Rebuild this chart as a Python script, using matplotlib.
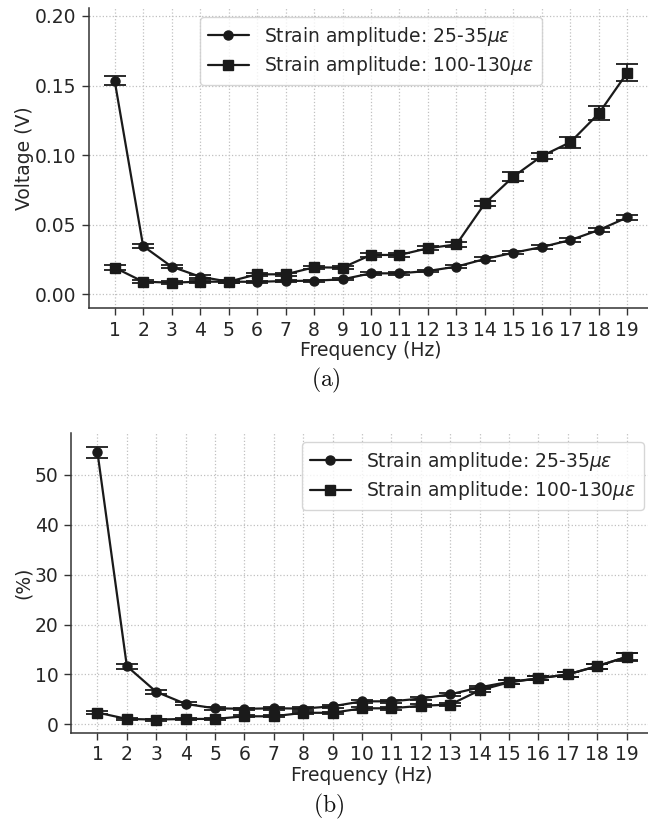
import matplotlib
matplotlib.use("Agg")
import matplotlib.pyplot as plt
from matplotlib.lines import Line2D
import seaborn as sns

sns.set_style("ticks")
plt.rcParams['font.family'] = ['DejaVu Sans']
plt.rcParams['mathtext.fontset'] = 'dejavusans'

freq = list(range(1, 20))
freq_ticks = [str(f) for f in freq]

# Panel (a): Voltage (V)
volt_low = [0.1536, 0.0347, 0.0199, 0.0127, 0.0091, 0.0090, 0.0096, 0.0098, 0.0108, 0.0151,
            0.0151, 0.0168, 0.0199, 0.0254, 0.0299, 0.0340, 0.0390, 0.0462, 0.0553]
volt_low_err = [0.003, 0.0015, 0.0012, 0.0010, 0.0008, 0.0008, 0.0008, 0.0008, 0.0008, 0.0010,
                0.0010, 0.0010, 0.0010, 0.0012, 0.0012, 0.0012, 0.0015, 0.0015, 0.002]
volt_high = [0.0192, 0.0091, 0.0084, 0.0091, 0.0091, 0.0144, 0.0144, 0.0194, 0.0192, 0.0283,
             0.0283, 0.0331, 0.0359, 0.0654, 0.0846, 0.0994, 0.1093, 0.1300, 0.1593]
volt_high_err = [0.002, 0.001, 0.001, 0.001, 0.001, 0.0012, 0.0012, 0.0012, 0.0012, 0.0015,
                 0.0015, 0.0015, 0.002, 0.002, 0.003, 0.0025, 0.004, 0.005, 0.006]

# Panel (b): percentage
pct_low = [54.55, 11.65, 6.5, 4.08, 3.2, 3.1, 3.2, 3.15, 3.6, 4.6,
           4.6, 5.15, 6.0, 7.4, 8.5, 9.2, 10.0, 11.65, 13.5]
pct_low_err = [1.1, 0.5, 0.35, 0.3, 0.25, 0.25, 0.25, 0.25, 0.25, 0.3,
               0.3, 0.3, 0.3, 0.35, 0.4, 0.4, 0.45, 0.5, 0.8]
pct_high = [2.35, 1.07, 0.94, 1.07, 1.07, 1.6, 1.6, 2.3, 2.3, 3.2,
            3.2, 3.7, 3.95, 6.8, 8.4, 9.2, 10.0, 11.65, 13.5]
pct_high_err = [0.3, 0.2, 0.2, 0.2, 0.2, 0.2, 0.2, 0.25, 0.25, 0.3,
                0.3, 0.3, 0.3, 0.4, 0.4, 0.4, 0.45, 0.5, 0.7]

labels = [r'Strain amplitude: 25-35$\mu\varepsilon$', r'Strain amplitude: 100-130$\mu\varepsilon$']

W, H = 648, 823
fig = plt.figure(figsize=(W / 100, H / 100), dpi=100)

def px_axes(left, right, top, bottom):
    return fig.add_axes([left / W, 1 - bottom / H, (right - left) / W, (bottom - top) / H])

ax1 = px_axes(89, 653, 8, 308)
ax2 = px_axes(71, 653, 433, 733)

color = '#1a1a1a'
textc = '#262626'
kw = dict(color=color, lw=1.6, capsize=8, elinewidth=1.3, capthick=1.3, markersize=6.5)
FS = 13.5

def draw(ax, low, low_err, high, high_err, ylabel, legend_loc):
    ax.errorbar(freq, low, yerr=low_err, marker='o', **kw)
    ax.errorbar(freq, high, yerr=high_err, marker='s', **kw)
    ax.set_xticks(freq)
    ax.set_xticklabels(freq_ticks)
    ax.set_xlim(0.1, 19.9)
    ax.grid(True, linestyle=':', color='#c0c0c0', lw=0.9)
    ax.set_axisbelow(True)
    ax.tick_params(labelsize=FS, length=5, width=1, color='#333333', labelcolor=textc, pad=4)
    ax.set_xlabel('Frequency (Hz)', fontsize=FS, labelpad=1, color=textc)
    ax.set_ylabel(ylabel, fontsize=FS, color=textc, labelpad=1)
    for s in ['top', 'right']:
        ax.spines[s].set_visible(False)
    for s in ['left', 'bottom']:
        ax.spines[s].set_color('#333333')
        ax.spines[s].set_linewidth(1.1)
    handles = [Line2D([], [], color=color, lw=1.6, marker='o', markersize=6.5),
               Line2D([], [], color=color, lw=1.6, marker='s', markersize=6.5)]
    leg = ax.legend(handles, labels, loc=legend_loc, fontsize=FS, frameon=True, handlelength=2.2,
                    borderpad=0.4, labelspacing=0.35, handletextpad=0.8)
    for t in leg.get_texts():
        t.set_color(textc)

draw(ax1, volt_low, volt_low_err, volt_high, volt_high_err, 'Voltage (V)', 'upper center')
ax1.set_ylim(-0.0098, 0.2057)
ax1.set_yticks([0.0, 0.05, 0.10, 0.15, 0.20])
ax1.set_yticklabels(['0.00', '0.05', '0.10', '0.15', '0.20'])

draw(ax2, pct_low, pct_low_err, pct_high, pct_high_err, '(%)', 'upper right')
ax2.set_ylim(-1.75, 58.4)
ax2.set_yticks([0, 10, 20, 30, 40, 50])

fig.text(326 / W, 1 - 380 / H, r'$\mathrm{(a)}$', fontsize=17, math_fontfamily='cm',
         ha='center', va='center', color='#111111')
fig.text(329 / W, 1 - 806 / H, r'$\mathrm{(b)}$', fontsize=17, math_fontfamily='cm',
         ha='center', va='center', color='#111111')

fig.savefig('out.png', dpi=100)
